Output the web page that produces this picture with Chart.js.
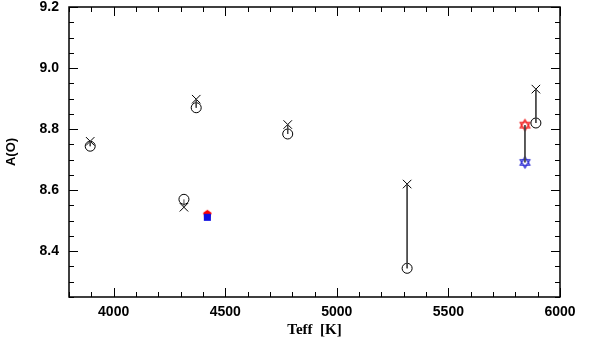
<!DOCTYPE html>
<html lang="en">
<head>
<meta charset="UTF-8">
<title>A(O) vs Teff</title>
<script src="https://cdn.jsdelivr.net/npm/chart.js"></script>
<style>
  html, body { margin: 0; padding: 0; background: #fff; }
  #wrap { width: 600px; height: 340px; }
</style>
</head>
<body>
<div id="wrap"><canvas id="chart"></canvas></div>
<script>
// two estimates per star: crosses and open circles
const teffPairs = [3895, 4315, 4370, 4780, 5315, 5892];
const crossVals = [8.76, 8.544, 8.898, 8.815, 8.62, 8.931];
const circleVals = [8.744, 8.57, 8.87, 8.784, 8.344, 8.82];

// filled symbols
const teffFilled = [4420];
const redFilled = [8.521];
const blueFilled = [8.511];

// open six-pointed stars
const teffStars = [5843];
const redStars = [8.813];
const blueStars = [8.691];

const xTicks = [4000, 4500, 5000, 5500, 6000];
const yTicks = [8.4, 8.6, 8.8, 9.0, 9.2];

function pts(xs, ys) {
    return xs.map((x, i) => ({ x: x, y: ys[i] }));
}

// one short vertical line dataset per star
function connectors(xs, a, b) {
    return xs.map((x, i) => ({
        data: [{ x: x, y: a[i] }, { x: x, y: b[i] }],
        showLine: true, borderColor: '#444', borderWidth: 1, pointRadius: 0
    }));
}

function hexagram(color, r) {
    const s = Math.ceil(r * 2 + 4);
    const c = document.createElement('canvas');
    c.width = c.height = s;
    const g = c.getContext('2d');
    g.strokeStyle = color;
    g.lineWidth = 1.2;
    [-Math.PI / 2, Math.PI / 2].forEach(off => {
        g.beginPath();
        for (let k = 0; k < 3; k++) {
            const t = off + k * 2 * Math.PI / 3;
            g.lineTo(s / 2 + r * Math.cos(t), s / 2 + r * Math.sin(t));
        }
        g.closePath();
        g.stroke();
    });
    return c;
}

function pentagon(color, r) {
    const s = Math.ceil(r * 2 + 2);
    const c = document.createElement('canvas');
    c.width = c.height = s;
    const g = c.getContext('2d');
    g.fillStyle = color;
    g.beginPath();
    for (let k = 0; k < 5; k++) {
        const t = -Math.PI / 2 + k * 2 * Math.PI / 5;
        g.lineTo(s / 2 + r * Math.cos(t), s / 2 + r * Math.sin(t));
    }
    g.closePath();
    g.fill();
    return c;
}

// frame with inward major/minor ticks on all four sides
const frameTicks = {
    id: 'frameTicks',
    afterDraw(chart) {
        const ctx = chart.ctx;
        const area = chart.chartArea;
        const sx = chart.scales.x, sy = chart.scales.y;
        ctx.save();
        ctx.fillStyle = '#000';
        for (let v = 3800; v <= 6000; v += 100) {
            const px = Math.round(sx.getPixelForValue(v));
            const len = v % 500 === 0 ? 9 : 5;
            ctx.fillRect(px, area.bottom - len, 1, len);
            ctx.fillRect(px, area.top, 1, len);
        }
        for (let k = 0; k <= 19; k++) {
            const py = Math.round(sy.getPixelForValue(8.25 + k * 0.05));
            const len = k % 4 === 3 ? 9 : 5;
            ctx.fillRect(area.left, py, len, 1);
            ctx.fillRect(area.right - len, py, len, 1);
        }
        ctx.strokeStyle = '#000';
        ctx.lineWidth = 1.5;
        ctx.beginPath();
        ctx.rect(area.left, area.top, area.right - area.left, area.bottom - area.top);
        ctx.stroke();
        ctx.restore();
    }
};

const tickFont = { family: 'Liberation Sans', size: 14, weight: 'bold' };

new Chart(document.getElementById('chart'), {
    type: 'scatter',
    data: {
        datasets: [
            ...connectors(teffPairs, crossVals, circleVals),
            ...connectors(teffStars, redStars, blueStars),
            {
                data: pts(teffPairs, circleVals),
                pointStyle: 'circle', pointRadius: 5,
                borderColor: '#000', backgroundColor: 'rgba(0,0,0,0)', borderWidth: 1
            },
            {
                data: pts(teffPairs, crossVals),
                pointStyle: 'crossRot', pointRadius: 6,
                borderColor: '#000', borderWidth: 1
            },
            {
                data: pts(teffFilled, blueFilled),
                pointStyle: 'rect', pointRadius: 5,
                borderColor: '#1010e0', backgroundColor: '#1010e0', borderWidth: 0
            },
            {
                data: pts(teffFilled, redFilled),
                pointStyle: pentagon('#ff0000', 4.5)
            },
            {
                data: pts(teffStars, blueStars),
                pointStyle: hexagram('#2020d0', 5.5)
            },
            {
                data: pts(teffStars, redStars),
                pointStyle: hexagram('#ee1010', 5.5)
            }
        ]
    },
    options: {
        responsive: true,
        maintainAspectRatio: false,
        animation: false,
        layout: { padding: { top: 7, right: 40, left: 0, bottom: 0 } },
        plugins: { legend: { display: false }, tooltip: { enabled: false } },
        scales: {
            x: {
                type: 'linear', min: 3800, max: 6000,
                grid: { display: false, drawTicks: false },
                border: { display: false },
                afterBuildTicks: s => { s.ticks = xTicks.map(v => ({ value: v })); },
                afterFit: s => { s.height = 43; },
                ticks: { color: '#000', font: tickFont, padding: 7, maxRotation: 0, callback: v => String(v) },
                title: {
                    display: true, text: 'Teff  [K]', color: '#000',
                    font: { family: 'Liberation Serif', size: 15, weight: 'bold' },
                    padding: { top: 0, bottom: 1 }
                }
            },
            y: {
                type: 'linear', min: 8.25, max: 9.2,
                grid: { display: false, drawTicks: false },
                border: { display: false },
                afterBuildTicks: s => { s.ticks = yTicks.map(v => ({ value: v })); },
                afterFit: s => { s.width = 69; s.paddingTop = 0; s.paddingBottom = 0; },
                ticks: { color: '#000', font: tickFont, padding: 10, callback: v => v.toFixed(1) },
                title: {
                    display: true, text: 'A(O)', color: '#000',
                    font: { family: 'Liberation Sans', size: 13, weight: 'bold' },
                    padding: { top: 4, bottom: 0 }
                }
            }
        }
    },
    plugins: [frameTicks]
});
</script>
</body>
</html>
